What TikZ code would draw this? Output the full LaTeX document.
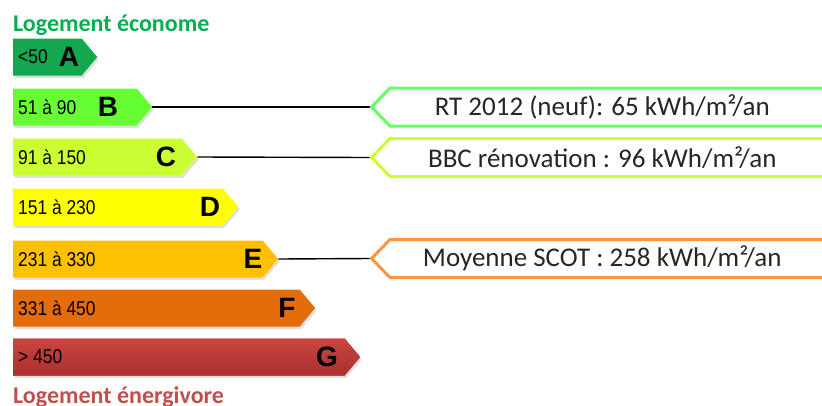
\documentclass[tikz,border=0pt]{standalone}
\usepackage{fontspec}
\setmainfont{Carlito}
\newfontfamily\rangefont[FakeStretch=0.87]{Liberation Sans}
\newfontfamily\classfont{Liberation Sans}
\usetikzlibrary{shapes.symbols,shadows,positioning}
\definecolor{classA}{HTML}{12A84F}
\definecolor{classB}{HTML}{66FF33}
\definecolor{classC}{HTML}{CCFF33}
\definecolor{classD}{HTML}{FFFF00}
\definecolor{classE}{HTML}{FFC000}
\definecolor{classF}{HTML}{E46C0A}
\definecolor{classGtop}{HTML}{CC4442}
\definecolor{classGbot}{HTML}{A8302E}
\definecolor{econome}{HTML}{00B050}
\definecolor{energivore}{HTML}{C0504D}
\definecolor{refRT}{HTML}{66FF66}
\definecolor{refBBC}{HTML}{CCFF33}
\definecolor{refSCOT}{HTML}{F79646}
\newcommand{\reftext}[1]{#1\hspace*{24pt}}
\tikzset{
  dpe/bar/.style={signal, signal to=east, signal pointer angle=100, anchor=west,
    minimum height=37pt, inner sep=0pt, fill=#1,
    drop shadow={opacity=0.25, shadow xshift=1.5pt, shadow yshift=-2.5pt}},
  dpe/range/.style={anchor=west, inner sep=0pt, font=\rangefont\fontsize{20}{22}\selectfont},
  dpe/letter/.style={inner sep=0pt, font=\classfont\bfseries\fontsize{28}{30}\selectfont},
  dpe/title/.style={anchor=base west, inner sep=0pt, font=\bfseries\fontsize{24}{26}\selectfont},
  dpe/ref/.style={signal, signal to=west, signal pointer angle=92, anchor=west,
    draw=#1, line width=3pt, minimum height=38pt, minimum width=467pt,
    inner sep=0pt, font=\fontsize{27}{29}\selectfont, text=black!85},
  dpe/link/.style={line width=1.4pt}
}

\begin{document}
\begin{tikzpicture}[x=1pt, y=-1pt]
  \useasboundingbox (0,0) rectangle (822,405);

  \node[dpe/title, text=econome] (top) at (13,31.5) {Logement économe};

  % classes
  \node[dpe/bar=classA, minimum width=84pt] (barA) at (13,57) {};
  \node[dpe/bar=classB, minimum width=139pt] (barB) at (13,107) {};
  \node[dpe/bar=classC, minimum width=184pt] (barC) at (13,157) {};
  \node[dpe/bar=classD, minimum width=225pt] (barD) at (13,207) {};
  \node[dpe/bar=classE, minimum width=265pt] (barE) at (13,259) {};
  \node[dpe/bar=classF, minimum width=302pt] (barF) at (13,308) {};
  \node[dpe/bar=classGtop, top color=classGtop, bottom color=classGbot,
    minimum width=347pt] (barG) at (13,357) {};

  \node[dpe/range] (rangeA) at (18,57) {<50};
  \node[dpe/range] (rangeB) at (18,107) {51 à 90};
  \node[dpe/range] (rangeC) at (18,157) {91 à 150};
  \node[dpe/range] (rangeD) at (18,207) {151 à 230};
  \node[dpe/range] (rangeE) at (18,259) {231 à 330};
  \node[dpe/range] (rangeF) at (18,308) {331 à 450};
  \node[dpe/range] (rangeG) at (18,357) {> 450};

  \node[dpe/letter] (letA) at (69,57) {A};
  \node[dpe/letter] (letB) at (108,107) {B};
  \node[dpe/letter] (letC) at (166,157) {C};
  \node[dpe/letter] (letD) at (210,207) {D};
  \node[dpe/letter] (letE) at (253,259) {E};
  \node[dpe/letter] (letF) at (287,308) {F};
  \node[dpe/letter] (letG) at (327,357) {G};

  \node[dpe/title, text=energivore] (bottom) at (13,403.5) {Logement énergivore};

  % references
  \node[dpe/ref=refRT] (refRT) at (369.5,107) {\reftext{RT 2012 (neuf): 65 kWh/m²/an}};
  \node[dpe/ref=refBBC] (refBBC) at (369.5,157.5) {\reftext{BBC rénovation : 96 kWh/m²/an}};
  \node[dpe/ref=refSCOT] (refSCOT) at (369.5,258.5) {\reftext{Moyenne SCOT : 258 kWh/m²/an}};

  \draw[dpe/link] (barB.east) -- (refRT.west);
  \draw[dpe/link] (barC.east) -- (refBBC.west);
  \draw[dpe/link] (barE.east) -- (refSCOT.west);
\end{tikzpicture}
\end{document}
